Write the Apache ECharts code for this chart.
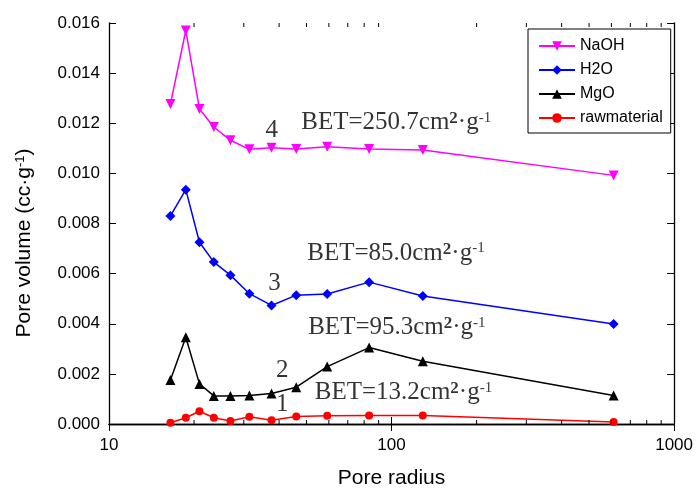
<!DOCTYPE html>
<html>
<head>
<meta charset="utf-8">
<script src="https://cdn.jsdelivr.net/npm/echarts@6/dist/echarts.min.js"></script>
<style>
html,body{margin:0;padding:0;background:#fff;}
#c{width:696px;height:494px;}
</style>
</head>
<body>
<div id="c"></div>
<script>
// ---- data ----
var poreRadius = [16.5, 18.7, 20.9, 23.5, 26.9, 31.4, 37.6, 46.0, 59.2, 83.3, 129, 611];
var naoh = [0.01277, 0.01570, 0.01257, 0.01185, 0.01132, 0.01096, 0.01102, 0.01097, 0.01106, 0.01097, 0.01093, 0.00992];
var h2o = [0.00830, 0.00935, 0.00725, 0.00646, 0.00594, 0.00520, 0.00473, 0.00514, 0.00519, 0.00566, 0.00511, 0.00399];
var mgo = [0.00176, 0.00346, 0.00160, 0.00112, 0.00112, 0.00114, 0.00122, 0.00147, 0.00229, 0.00305, 0.00250, 0.00114];
var raw = [0.00005, 0.00025, 0.00051, 0.00025, 0.00012, 0.00029, 0.00015, 0.00030, 0.00033, 0.00034, 0.00034, 0.00008];
var seriesNames = ['NaOH', 'H2O', 'MgO', 'rawmaterial'];
var xTickLabels = ['10', '100', '1000'];
var minorTicks = [20, 30, 40, 50, 60, 70, 80, 90, 200, 300, 400, 500, 600, 700, 800, 900];
var yMin = 0, yMax = 0.016, yStep = 0.002;
var annotationTexts = ['4', 'BET=250.7', '3', 'BET=85.0', '2', 'BET=95.3', '1', 'BET=13.2'];
var annotationX = [37.8, 48.1, 38.7, 50.5, 41.2, 50.9, 41.2, 53.7];
var annotationY = [0.011685, 0.011993, 0.005584, 0.006798, 0.0021, 0.003823, 0.000749, 0.001233];

// ---- chart ----
var SANS = 'Liberation Sans, Arial, sans-serif';
var SERIF = 'Liberation Serif, Times New Roman, serif';
var chart = echarts.init(document.getElementById('c'), null, {renderer: 'canvas'});

function pairs(ys) { return poreRadius.map(function (x, i) { return [x, ys[i]]; }); }

var colors = ['#ff00ff', '#0000ff', '#000000', '#ff0000'];
var symbols = ['triangle', 'diamond', 'triangle', 'circle'];
var rotates = [180, 0, 0, 0];
var sizes = [10, 10, 10, 8];
var vals = [naoh, h2o, mgo, raw];

var series = seriesNames.map(function (n, i) {
  return {
    name: n, type: 'line', data: pairs(vals[i]),
    symbol: symbols[i], symbolRotate: rotates[i], symbolSize: sizes[i],
    showAllSymbol: true,
    lineStyle: {color: colors[i], width: 1.5},
    itemStyle: {color: colors[i]},
    z: 5 - i
  };
});

var richStyles = {
  a: {fontFamily: SERIF, fontSize: 25, lineHeight: 25, color: '#000'},
  b: {fontFamily: SERIF, fontSize: 17, fontWeight: 'bold', lineHeight: 20, verticalAlign: 'top', color: '#000'},
  c: {fontFamily: SERIF, fontSize: 15, lineHeight: 10, verticalAlign: 'top', color: '#000'}
};

series.push({
  name: 'annotations', type: 'scatter', silent: true, z: 10,
  symbolSize: 1, itemStyle: {color: 'rgba(0,0,0,0)'},
  data: annotationTexts.map(function (t, i) {
    return {
      value: [annotationX[i], annotationY[i]], name: t,
      label: {align: t.length === 1 ? 'center' : 'left'}
    };
  }),
  label: {
    show: true, position: [0, 0], verticalAlign: 'middle',
    formatter: function (p) {
      if (p.name.length === 1) return '{a|' + p.name + '}';
      return '{a|' + p.name + 'cm}{b|2}{a|·g}{c|-1}';
    },
    rich: richStyles
  }
});

series.push({
  name: 'minorTicks', type: 'custom', silent: true, z: 3,
  data: minorTicks.map(function (v) { return [v, yMin]; }),
  renderItem: function (params, api) {
    var v = api.value(0);
    var b = api.coord([v, yMin]);
    var t = api.coord([v, yMax]);
    return {
      type: 'group',
      children: [
        {type: 'line', shape: {x1: b[0], y1: b[1], x2: b[0], y2: b[1] - 4}, style: {stroke: '#000', lineWidth: 1}},
        {type: 'line', shape: {x1: t[0], y1: t[1], x2: t[0], y2: t[1] + 4}, style: {stroke: '#000', lineWidth: 1}}
      ]
    };
  }
});

var axisLineStyle = {show: true, lineStyle: {color: '#000', width: 1.3}};

var option = {
  animation: false,
  backgroundColor: '#fff',
  grid: {left: 109, top: 23, width: 567, height: 406, containLabel: false},
  legend: {
    data: seriesNames, orient: 'vertical', left: 528, top: 29,
    padding: [9, 8, 7, 10], itemGap: 8, itemWidth: 36, itemHeight: 12,
    borderColor: '#000', borderWidth: 1, backgroundColor: '#fff',
    textStyle: {fontFamily: SANS, fontSize: 16, color: '#000'}
  },
  xAxis: [{
    type: 'log', logBase: 10, min: 10, max: 1000,
    name: 'Pore radius', nameLocation: 'middle', nameGap: 44,
    nameTextStyle: {fontFamily: SANS, fontSize: 21, color: '#000'},
    axisLine: axisLineStyle,
    axisTick: {show: true, inside: true, length: 7, lineStyle: {color: '#000', width: 1}},
    axisLabel: {fontFamily: SANS, fontSize: 17, color: '#000', margin: 13,
      formatter: function (v) { var k = Math.round(Math.log(v) / Math.LN10) - 1; return xTickLabels[k] || ''; }},
    splitLine: {show: false}
  }, {
    type: 'log', logBase: 10, min: 10, max: 1000, position: 'top',
    axisLine: axisLineStyle,
    axisTick: {show: true, inside: true, length: 7, lineStyle: {color: '#000', width: 1}},
    axisLabel: {show: false}, splitLine: {show: false}
  }],
  yAxis: [{
    type: 'value', min: yMin, max: yMax, interval: yStep,
    name: 'Pore volume (cc·g{s|-1})', nameLocation: 'middle', nameGap: 74,
    nameTextStyle: {fontFamily: SANS, fontSize: 21, color: '#000', padding: [0, 39, 0, 0],
      rich: {s: {fontFamily: SANS, fontSize: 13, lineHeight: 12, verticalAlign: 'top', color: '#000'}}},
    axisLine: axisLineStyle,
    axisTick: {show: true, inside: true, length: 7, lineStyle: {color: '#000', width: 1}},
    axisLabel: {fontFamily: SANS, fontSize: 17, color: '#000', margin: 9,
      formatter: function (v) { return v.toFixed(3); }},
    splitLine: {show: false}
  }, {
    type: 'value', min: yMin, max: yMax, interval: yStep, position: 'right',
    axisLine: axisLineStyle,
    axisTick: {show: true, inside: true, length: 7, lineStyle: {color: '#000', width: 1}},
    axisLabel: {show: false}, splitLine: {show: false}
  }],
  series: series
};
chart.setOption(option);
</script>
</body>
</html>
